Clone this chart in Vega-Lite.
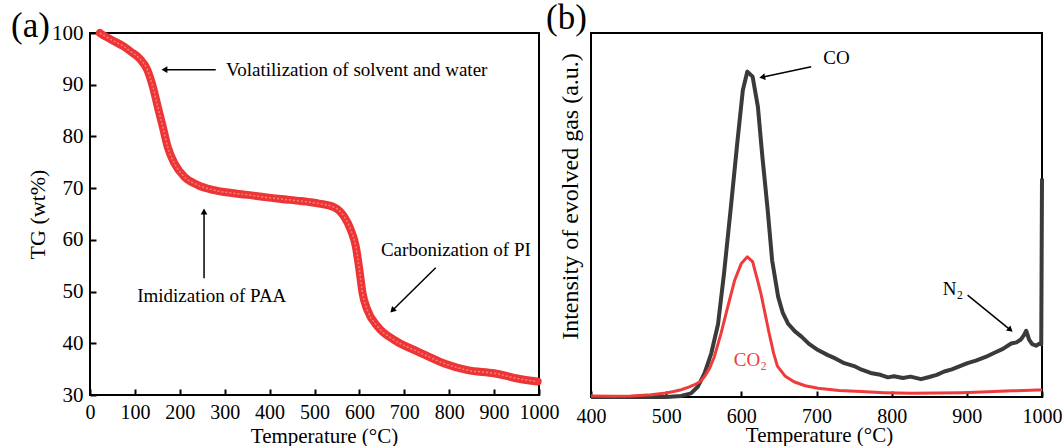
{
  "$schema": "https://vega.github.io/schema/vega-lite/v6.json",
  "padding": {"left": 10, "top": 0, "right": 5, "bottom": 0},
  "background": "white",
  "spacing": 52,
  "bounds": "flush",
  "config": {
    "view": {"stroke": "black", "strokeWidth": 2},
    "font": "Liberation Serif",
    "axis": {
      "grid": false,
      "domain": false,
      "labelFont": "Liberation Serif",
      "titleFont": "Liberation Serif",
      "labelColor": "black",
      "titleColor": "black",
      "titleFontWeight": "normal",
      "labelFontSize": 20,
      "titleFontSize": 21,
      "tickColor": "black",
      "tickWidth": 2,
      "tickSize": -6,
      "labelFlush": false,
      "labelOverlap": false
    }
  },
  "datasets": {
    "tg": [
      {"temp": 22, "tg": 100}, {"temp": 35, "tg": 99.3}, {"temp": 54, "tg": 98.4}, {"temp": 75, "tg": 97.4},
      {"temp": 91, "tg": 96.4}, {"temp": 110, "tg": 95.1}, {"temp": 128, "tg": 92.8}, {"temp": 140, "tg": 89.6},
      {"temp": 151, "tg": 85.7}, {"temp": 162, "tg": 81.9}, {"temp": 173, "tg": 78.0}, {"temp": 188, "tg": 74.8},
      {"temp": 210, "tg": 72.2}, {"temp": 240, "tg": 70.6}, {"temp": 277, "tg": 69.6}, {"temp": 351, "tg": 68.7},
      {"temp": 425, "tg": 67.9}, {"temp": 470, "tg": 67.5}, {"temp": 510, "tg": 67.0}, {"temp": 544, "tg": 66.3},
      {"temp": 566, "tg": 64.5}, {"temp": 581, "tg": 61.9}, {"temp": 592, "tg": 58.7}, {"temp": 600, "tg": 54.2},
      {"temp": 607, "tg": 49.7}, {"temp": 618, "tg": 46.4}, {"temp": 641, "tg": 43.2}, {"temp": 678, "tg": 40.6},
      {"temp": 730, "tg": 38.4}, {"temp": 789, "tg": 36.1}, {"temp": 841, "tg": 34.8}, {"temp": 900, "tg": 34.2},
      {"temp": 952, "tg": 33.2}, {"temp": 997, "tg": 32.6}
    ],
    "gas": [
      {"temp": 400, "gas": "CO", "v": 0}, {"temp": 460, "gas": "CO", "v": 0}, {"temp": 500, "gas": "CO", "v": 0},
      {"temp": 520, "gas": "CO", "v": 0.3}, {"temp": 533, "gas": "CO", "v": 1}, {"temp": 542, "gas": "CO", "v": 2.8},
      {"temp": 551, "gas": "CO", "v": 6.5}, {"temp": 560, "gas": "CO", "v": 12}, {"temp": 569, "gas": "CO", "v": 20},
      {"temp": 577, "gas": "CO", "v": 34}, {"temp": 586, "gas": "CO", "v": 52}, {"temp": 595, "gas": "CO", "v": 70.6},
      {"temp": 602, "gas": "CO", "v": 84.3}, {"temp": 608, "gas": "CO", "v": 89.4}, {"temp": 615, "gas": "CO", "v": 88},
      {"temp": 622, "gas": "CO", "v": 79.8}, {"temp": 628, "gas": "CO", "v": 66}, {"temp": 635, "gas": "CO", "v": 51.5},
      {"temp": 641, "gas": "CO", "v": 37.5}, {"temp": 649, "gas": "CO", "v": 27.5}, {"temp": 655, "gas": "CO", "v": 23.2},
      {"temp": 662, "gas": "CO", "v": 20.2}, {"temp": 671, "gas": "CO", "v": 18.1}, {"temp": 680, "gas": "CO", "v": 16.6},
      {"temp": 690, "gas": "CO", "v": 14.6}, {"temp": 702, "gas": "CO", "v": 12.9}, {"temp": 715, "gas": "CO", "v": 11.5},
      {"temp": 725, "gas": "CO", "v": 10.6}, {"temp": 737, "gas": "CO", "v": 9.3}, {"temp": 750, "gas": "CO", "v": 8.5},
      {"temp": 760, "gas": "CO", "v": 7.5}, {"temp": 772, "gas": "CO", "v": 6.6}, {"temp": 785, "gas": "CO", "v": 6.1},
      {"temp": 795, "gas": "CO", "v": 5.4}, {"temp": 803, "gas": "CO", "v": 5.7}, {"temp": 815, "gas": "CO", "v": 5.2},
      {"temp": 825, "gas": "CO", "v": 5.6}, {"temp": 839, "gas": "CO", "v": 4.9}, {"temp": 850, "gas": "CO", "v": 5.5},
      {"temp": 860, "gas": "CO", "v": 6.1}, {"temp": 870, "gas": "CO", "v": 7}, {"temp": 880, "gas": "CO", "v": 7.6},
      {"temp": 890, "gas": "CO", "v": 8.4}, {"temp": 901, "gas": "CO", "v": 9.3}, {"temp": 912, "gas": "CO", "v": 10},
      {"temp": 925, "gas": "CO", "v": 11}, {"temp": 936, "gas": "CO", "v": 12.1}, {"temp": 948, "gas": "CO", "v": 13.2},
      {"temp": 959, "gas": "CO", "v": 14.7}, {"temp": 966, "gas": "CO", "v": 15}, {"temp": 972, "gas": "CO", "v": 15.8},
      {"temp": 976, "gas": "CO", "v": 17}, {"temp": 979, "gas": "CO", "v": 18.2}, {"temp": 983, "gas": "CO", "v": 15.7},
      {"temp": 987, "gas": "CO", "v": 14.5}, {"temp": 992, "gas": "CO", "v": 14.1}, {"temp": 997, "gas": "CO", "v": 14.7},
      {"temp": 999, "gas": "CO", "v": 14.5}, {"temp": 1000, "gas": "CO", "v": 60},
      {"temp": 400, "gas": "CO2", "v": 0.3}, {"temp": 430, "gas": "CO2", "v": 0.2}, {"temp": 453, "gas": "CO2", "v": 0.3},
      {"temp": 480, "gas": "CO2", "v": 0.6}, {"temp": 497, "gas": "CO2", "v": 1}, {"temp": 510, "gas": "CO2", "v": 1.5},
      {"temp": 520, "gas": "CO2", "v": 2}, {"temp": 530, "gas": "CO2", "v": 2.7}, {"temp": 537, "gas": "CO2", "v": 3.3},
      {"temp": 545, "gas": "CO2", "v": 4.2}, {"temp": 551, "gas": "CO2", "v": 5.6}, {"temp": 558, "gas": "CO2", "v": 8},
      {"temp": 564, "gas": "CO2", "v": 11}, {"temp": 573, "gas": "CO2", "v": 17.5}, {"temp": 582, "gas": "CO2", "v": 24.8},
      {"temp": 591, "gas": "CO2", "v": 32}, {"temp": 600, "gas": "CO2", "v": 36.7}, {"temp": 608, "gas": "CO2", "v": 38.5},
      {"temp": 615, "gas": "CO2", "v": 37.2}, {"temp": 621, "gas": "CO2", "v": 32.5}, {"temp": 626, "gas": "CO2", "v": 28.5},
      {"temp": 631, "gas": "CO2", "v": 23.5}, {"temp": 637, "gas": "CO2", "v": 17.5}, {"temp": 643, "gas": "CO2", "v": 12},
      {"temp": 648, "gas": "CO2", "v": 8.5}, {"temp": 658, "gas": "CO2", "v": 5.8}, {"temp": 670, "gas": "CO2", "v": 4.2},
      {"temp": 685, "gas": "CO2", "v": 3.1}, {"temp": 702, "gas": "CO2", "v": 2.4}, {"temp": 730, "gas": "CO2", "v": 1.8},
      {"temp": 759, "gas": "CO2", "v": 1.5}, {"temp": 790, "gas": "CO2", "v": 1.2}, {"temp": 826, "gas": "CO2", "v": 1},
      {"temp": 860, "gas": "CO2", "v": 1.1}, {"temp": 892, "gas": "CO2", "v": 1.2}, {"temp": 920, "gas": "CO2", "v": 1.4},
      {"temp": 936, "gas": "CO2", "v": 1.5}, {"temp": 960, "gas": "CO2", "v": 1.7}, {"temp": 994, "gas": "CO2", "v": 1.9},
      {"temp": 1000, "gas": "CO2", "v": 1.9}
    ],
    "notesA": [
      {"label": "Volatilization of solvent and water", "temp": 303, "tg": 92.8},
      {"label": "Imidization of PAA", "temp": 105, "tg": 49.2},
      {"label": "Carbonization of PI", "temp": 648, "tg": 58.0}
    ],
    "arrowsA": [
      {"temp": 280, "tg": 92.9, "temp2": 168, "tg2": 92.9, "heading": 270},
      {"temp": 254, "tg": 52.6, "temp2": 254, "tg2": 65.3, "heading": 0},
      {"temp": 770, "tg": 54.6, "temp2": 675, "tg2": 46.5, "heading": 225}
    ],
    "notesB": [
      {"label": "CO", "gas": "CO", "temp": 709, "v": 93.1},
      {"label": "CO₂", "gas": "CO2", "temp": 590, "v": 10.2},
      {"label": "N₂", "gas": "CO", "temp": 868, "v": 29.7}
    ],
    "arrowsB": [
      {"temp": 693, "v": 90.7, "temp2": 629, "v2": 87.9, "heading": 258},
      {"temp": 901, "v": 28.0, "temp2": 957, "v2": 18.6, "heading": 130}
    ]
  },
  "hconcat": [
    {
      "width": 449,
      "height": 362,
      "title": {"text": "(a)", "anchor": "start", "frame": "group", "align": "left", "baseline": "top", "dx": -79, "offset": -22, "font": "Liberation Serif", "fontSize": 35, "fontWeight": "normal", "color": "black"},
      "encoding": {
        "x": {"field": "temp", "type": "quantitative", "scale": {"domain": [0, 1000], "nice": false},
          "axis": {"title": "Temperature (°C)", "format": "d", "values": [0, 100, 200, 300, 400, 500, 600, 700, 800, 900, 1000], "labelPadding": 13, "titlePadding": 3, "titleX": 234}},
        "y": {"field": "tg", "type": "quantitative", "scale": {"domain": [30, 100], "nice": false, "zero": false},
          "axis": {"title": "TG (wt%)", "values": [30, 40, 50, 60, 70, 80, 90, 100], "labelPadding": 13, "labelFontSize": 21, "titleFontSize": 22, "titlePadding": 2}}
      },
      "layer": [
        {"data": {"name": "tg"}, "mark": {"type": "line", "color": "#ee3535", "strokeWidth": 8, "strokeCap": "round", "strokeJoin": "round", "interpolate": "monotone"}},
        {"data": {"name": "tg"}, "mark": {"type": "line", "color": "#f47f7f", "strokeWidth": 1.5, "strokeDash": [2, 2], "interpolate": "monotone"}},
        {"data": {"name": "arrowsA"}, "mark": {"type": "rule", "color": "black", "strokeWidth": 1.5},
          "encoding": {"x2": {"field": "temp2"}, "y2": {"field": "tg2"}}},
        {"data": {"name": "arrowsA"}, "mark": {"type": "point", "shape": "triangle", "filled": true, "color": "black", "size": 45, "opacity": 1},
          "encoding": {"x": {"field": "temp2", "type": "quantitative"}, "y": {"field": "tg2", "type": "quantitative"}, "angle": {"field": "heading", "type": "quantitative", "scale": null}}},
        {"data": {"name": "notesA"}, "mark": {"type": "text", "align": "left", "baseline": "middle", "font": "Liberation Serif", "fontSize": 19, "color": "black"},
          "encoding": {"text": {"field": "label"}}}
      ]
    },
    {
      "width": 451,
      "height": 364,
      "title": {"text": "(b)", "anchor": "start", "frame": "group", "align": "left", "baseline": "top", "dx": -45, "offset": -3, "font": "Liberation Serif", "fontSize": 35, "fontWeight": "normal", "color": "black"},
      "encoding": {
        "x": {"field": "temp", "type": "quantitative", "scale": {"domain": [400, 1000], "nice": false, "zero": false},
          "axis": {"title": "Temperature (°C)", "format": "d", "values": [400, 500, 600, 700, 800, 900, 1000], "labelPadding": 15, "titlePadding": -2, "titleX": 228}},
        "y": {"field": "v", "type": "quantitative", "scale": {"domain": [0, 100], "nice": false},
          "axis": {"title": "Intensity of evolved gas (a.u.)", "titleFont": "Liberation Serif", "titleFontSize": 24, "titleY": 163, "labels": false, "ticks": false, "minExtent": 0, "titlePadding": 9}}
      },
      "layer": [
        {"data": {"name": "gas"}, "transform": [{"filter": "datum.gas === 'CO'"}], "mark": {"type": "line", "color": "#3a3a3a", "strokeWidth": 4, "strokeJoin": "round"}},
        {"data": {"name": "gas"}, "transform": [{"filter": "datum.gas === 'CO2'"}], "mark": {"type": "line", "color": "#ef3b3b", "strokeWidth": 3, "strokeJoin": "round"}},
        {"data": {"name": "arrowsB"}, "mark": {"type": "rule", "color": "black", "strokeWidth": 1.5},
          "encoding": {"x2": {"field": "temp2"}, "y2": {"field": "v2"}}},
        {"data": {"name": "arrowsB"}, "mark": {"type": "point", "shape": "triangle", "filled": true, "color": "black", "size": 45, "opacity": 1},
          "encoding": {"x": {"field": "temp2", "type": "quantitative"}, "y": {"field": "v2", "type": "quantitative"}, "angle": {"field": "heading", "type": "quantitative", "scale": null}}},
        {"data": {"name": "notesB"}, "mark": {"type": "text", "align": "left", "baseline": "middle", "font": "Liberation Serif", "fontSize": 19},
          "encoding": {"text": {"field": "label"}, "color": {"field": "gas", "type": "nominal", "scale": {"domain": ["CO", "CO2"], "range": ["black", "#ef3b3b"]}, "legend": null}}}
      ]
    }
  ]
}
